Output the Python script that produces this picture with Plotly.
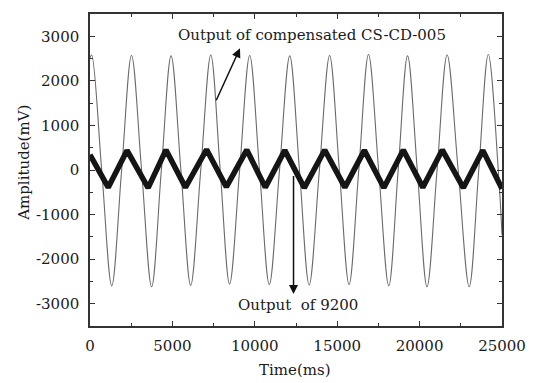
import plotly.graph_objects as go

# Large signal: output of compensated CS-CD-005 (peaks, zero crossings, troughs)
big_t = [0, 100, 710, 1320, 1920, 2520, 3130, 3740, 4330, 4920, 5515, 6110, 6720,
         7330, 7900, 8470, 9080, 9690, 10285, 10880, 11500, 12120, 12710, 13300,
         13920, 14540, 15130, 15720, 16310, 16900, 17515, 18130, 18700, 19270,
         19860, 20450, 21060, 21670, 22340, 23010, 23590, 24170, 24775, 25000]
big_v = [2520, 2580, 0, -2600, 0, 2570, 0, -2620, 0, 2560, 0, -2590, 0,
         2580, 0, -2560, 0, 2570, 0, -2570, 0, 2560, 0, -2580,
         0, 2570, 0, -2570, 0, 2590, 0, -2600, 0, 2560,
         0, -2620, 0, 2580, 0, -2620, 0, 2590, 0, -1450]

# Small signal: output of 9200
small_t = [0, 1105, 2246, 3528, 4610, 5792, 7074, 8274, 9515, 10638, 11820, 13002,
           14243, 15467, 16648, 17831, 19012, 20195, 21376, 22654, 23836, 25000]
small_v = [340, -390, 440, -400, 450, -390, 460, -380, 450, -390, 440, -400,
           450, -390, 440, -400, 450, -390, 450, -400, 440, -420]

x_ticks = [0, 5000, 10000, 15000, 20000, 25000]
y_ticks = [-3000, -2000, -1000, 0, 1000, 2000, 3000]

FONT = "DejaVu Serif"

fig = go.Figure()
fig.add_trace(go.Scatter(x=big_t, y=big_v, mode="lines",
                         line=dict(color="#6a6a6a", width=1.1, shape="spline", smoothing=1.0),
                         showlegend=False, hoverinfo="skip"))
fig.add_trace(go.Scatter(x=small_t, y=small_v, mode="lines",
                         line=dict(color="#151515", width=5.5),
                         showlegend=False, hoverinfo="skip"))

axis_common = dict(showline=True, linecolor="#333333", linewidth=1.5, mirror="ticks",
                   ticks="inside", ticklen=5, tickwidth=1.3, tickcolor="#333333",
                   showgrid=False, zeroline=False,
                   tickfont=dict(family=FONT, size=15, color="#1a1a1a"))

fig.update_xaxes(range=[0, 25000], tickvals=x_ticks, ticktext=[str(v) for v in x_ticks],
                 minor=dict(ticks="inside", ticklen=3, dtick=2500, tickcolor="#333333", tickwidth=1.2),
                 ticklabelstandoff=5, **axis_common)
fig.update_yaxes(range=[-3500, 3500], tickvals=y_ticks, ticktext=[str(v) for v in y_ticks],
                 minor=dict(ticks="inside", ticklen=3, dtick=500, tickcolor="#333333", tickwidth=1.2),
                 ticklabelstandoff=6, **axis_common)

annotations = [
    dict(text="Output of compensated CS-CD-005", x=318, y=33),
    dict(text="Output\u00a0 of 9200", x=304, y=305),
    dict(text="Time(ms)", x=300, y=370),
    dict(text="Amplitude(mV)", x=22, y=162, textangle=-90),
]

W, H = 538, 383
L, R, T, B = 90, 25, 12, 57
pw, ph = W - L - R, H - T - B
ann_objs = []
for a in annotations:
    px, py = a["x"], a["y"]
    ann_objs.append(dict(text=a["text"], x=(px - L) / pw, y=1 - (py - T) / ph,
                         xref="paper", yref="paper", showarrow=False,
                         textangle=a.get("textangle", 0),
                         xanchor="center", yanchor="middle",
                         font=dict(family=FONT, size=15, color="#1a1a1a")))

# arrows (data coordinates)
ann_objs.append(dict(x=9100, y=2730, ax=7620, ay=1530, xref="x", yref="y",
                     axref="x", ayref="y", showarrow=True, arrowhead=2, arrowsize=1.2,
                     arrowwidth=1.5, arrowcolor="#111111", text=""))
ann_objs.append(dict(x=12350, y=-2780, ax=12350, ay=-100, xref="x", yref="y",
                     axref="x", ayref="y", showarrow=True, arrowhead=2, arrowsize=1.2,
                     arrowwidth=1.5, arrowcolor="#111111", text=""))

fig.update_layout(width=W, height=H, margin=dict(l=L, r=R, t=T, b=B),
                  paper_bgcolor="white", plot_bgcolor="white",
                  annotations=ann_objs)

fig.write_html("out.html")
